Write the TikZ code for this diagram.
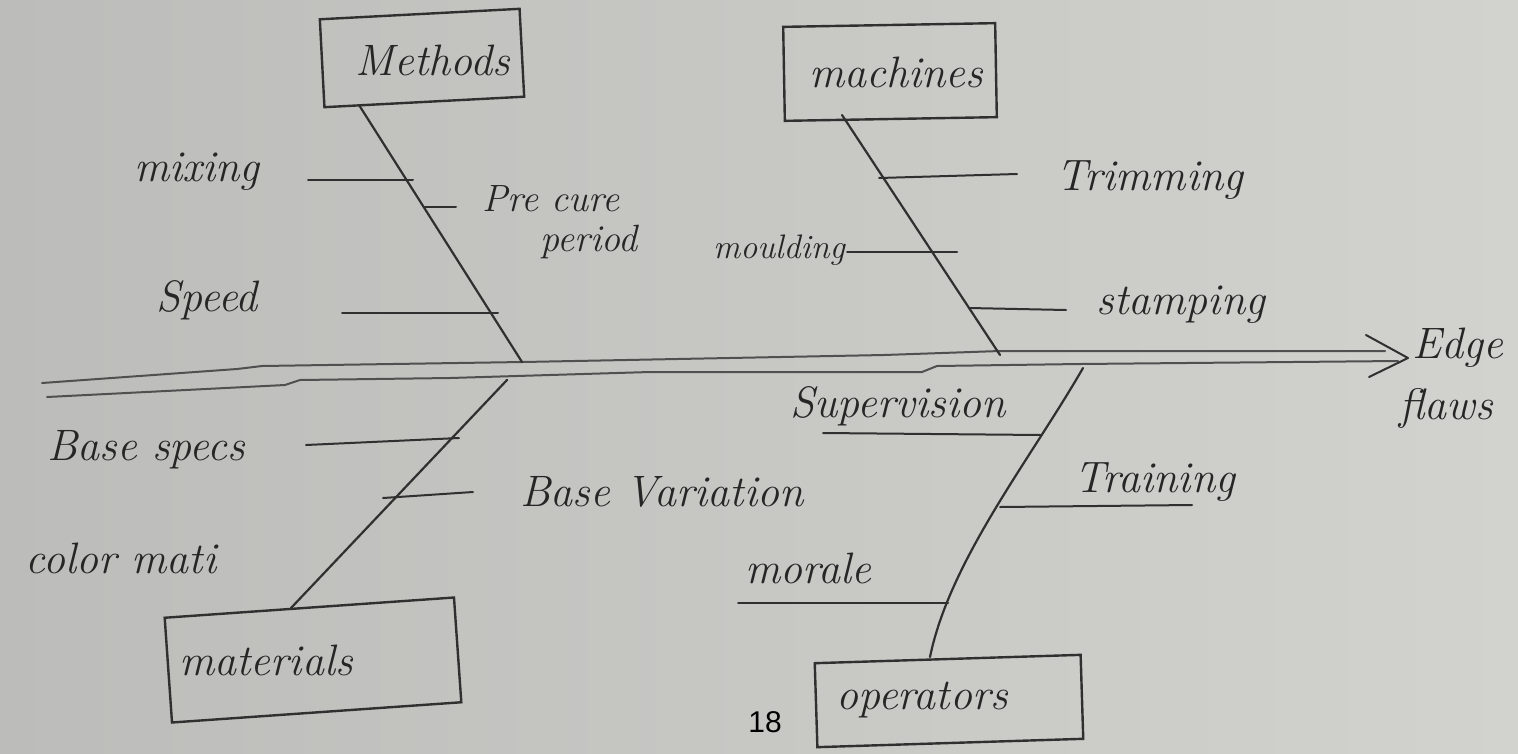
\documentclass[tikz,border=0pt]{standalone}
\usepackage{fontspec}
\newfontfamily\printfont{Liberation Sans}
\definecolor{paperL}{RGB}{188,189,186}
\definecolor{paperR}{RGB}{210,210,206}
\definecolor{inkline}{RGB}{48,48,48}
\definecolor{inkfaint}{RGB}{80,80,80}
\definecolor{inktext}{RGB}{38,38,38}
\begin{document}
\begin{tikzpicture}[x=1pt,y=-1pt,
  pen/.style={draw=inkline, line width=2pt, line cap=round, line join=round},
  spine/.style={pen, line width=2.2pt},
  mainline/.style={draw=inkfaint, line width=2pt, line cap=round, line join=round},
  boxst/.style={draw=inkline, line width=2.4pt, inner sep=0pt},
  hand/.style={font=\fontsize{44}{48}\selectfont\itshape, text=inktext, inner sep=0pt},
  midhand/.style={hand, font=\fontsize{38}{40}\selectfont\itshape},
  smallhand/.style={hand, font=\fontsize{34}{38}\selectfont\itshape}]
\useasboundingbox (0,0) rectangle (1518,753);
\shade[left color=paperL, right color=paperR] (0,0) rectangle (1518,753);

% ---- category boxes ----
\node[boxst, minimum width=200pt, minimum height=88pt, rotate=3] (methods) at (422,58) {};
\node[boxst, minimum width=212pt, minimum height=94pt, rotate=1] (machines) at (890,72) {};
\node[boxst, minimum width=290pt, minimum height=105pt, rotate=4] (materials) at (313,660) {};
\node[boxst, minimum width=266pt, minimum height=84pt, rotate=1.8] (operators) at (949,701) {};

\node[hand] (methodsT) at (433,60) {Methods};
\node[hand] (machinesT) at (896,72) {machines};
\node[hand] (materialsT) at (266,660) {materials};
\node[hand] (operatorsT) at (922,700) {operators};

% ---- effect ----
\node[hand] (edge) at (1458,348) {Edge};
\node[hand] (flaws) at (1446,408) {flaws};

% ---- backbone (double line ending in an open arrowhead) ----
\coordinate (tip) at (1408,358);
\coordinate (headU) at (1366,335);
\coordinate (headL) at (1369,377);
\draw[mainline] (42,383) -- (237,369) -- (262,366) -- (523,362) -- (884,355)
  -- (1000,351) -- (1385,351);
\draw[mainline] (47,397) -- (285,385) -- (300,380) -- (450,378) -- (650,372)
  -- (922,372) -- (937,366) -- (1080,364) -- (1398,361);
\draw[pen] (headU) -- (tip) -- (headL);

% ---- spines ----
\coordinate (mS) at (359,105);  \coordinate (mE) at (522,362);
\coordinate (cS) at (842,115);  \coordinate (cE) at (1000,355);
\coordinate (tS) at (291,608);  \coordinate (tE) at (507,380);
\coordinate (oS) at (930,657);  \coordinate (oE) at (1083,368);
\draw[spine] (mS) -- (mE);
\draw[spine] (cS) -- (cE);
\draw[spine] (tS) -- (tE);
\draw[spine] (oE) .. controls (1030,460) and (950,560) .. (oS);

% ---- methods branches ----
\coordinate (mixA) at (308,180); \coordinate (mixB) at (413,180);
\coordinate (preA) at (425,207); \coordinate (preB) at (456,207);
\coordinate (spdA) at (342,313); \coordinate (spdB) at (498,313);
\draw[pen] (mixA) -- (mixB);
\draw[pen] (preA) -- (preB);
\draw[pen] (spdA) -- (spdB);
\node[hand] (mixing) at (197,172) {mixing};
\node[midhand, align=left] (precure) at (560,222) {Pre cure\\\hspace*{58pt}period};
\node[hand] (speed) at (207,300) {Speed};

% ---- machines branches ----
\coordinate (trA) at (879,178); \coordinate (trB) at (1017,174);
\coordinate (moA) at (847,252); \coordinate (moB) at (957,252);
\coordinate (stA) at (969,308); \coordinate (stB) at (1066,310);
\draw[pen] (trA) -- (trB);
\draw[pen] (moA) -- (moB);
\draw[pen] (stA) -- (stB);
\node[hand] (trimming) at (1150,180) {Trimming};
\node[smallhand] (moulding) at (779,250) {moulding};
\node[hand] (stamping) at (1181,305) {stamping};

% ---- materials branches ----
\coordinate (bsA) at (306,445); \coordinate (bsB) at (459,438);
\coordinate (bvA) at (383,498); \coordinate (bvB) at (473,492);
\draw[pen] (bsA) -- (bsB);
\draw[pen] (bvA) -- (bvB);
\node[hand] (basespecs) at (146,450) {Base specs};
\node[hand] (basevar) at (662,492) {Base Variation};
\node[hand] (colormati) at (121,558) {color mati};

% ---- operators branches ----
\coordinate (suA) at (823,433); \coordinate (suB) at (1041,435);
\coordinate (trnA) at (1000,507); \coordinate (trnB) at (1192,505);
\coordinate (morA) at (738,603); \coordinate (morB) at (948,603);
\draw[pen] (suA) -- (suB);
\draw[pen] (trnA) -- (trnB);
\draw[pen] (morA) -- (morB);
\node[hand] (supervision) at (898,406) {Supervision};
\node[hand] (training) at (1155,482) {Training};
\node[hand] (morale) at (808,568) {morale};

% ---- page number ----
\node[font=\printfont\fontsize{30}{34}\selectfont, text=black, inner sep=0pt] (pageno) at (765,722) {18};
\end{tikzpicture}
\end{document}
